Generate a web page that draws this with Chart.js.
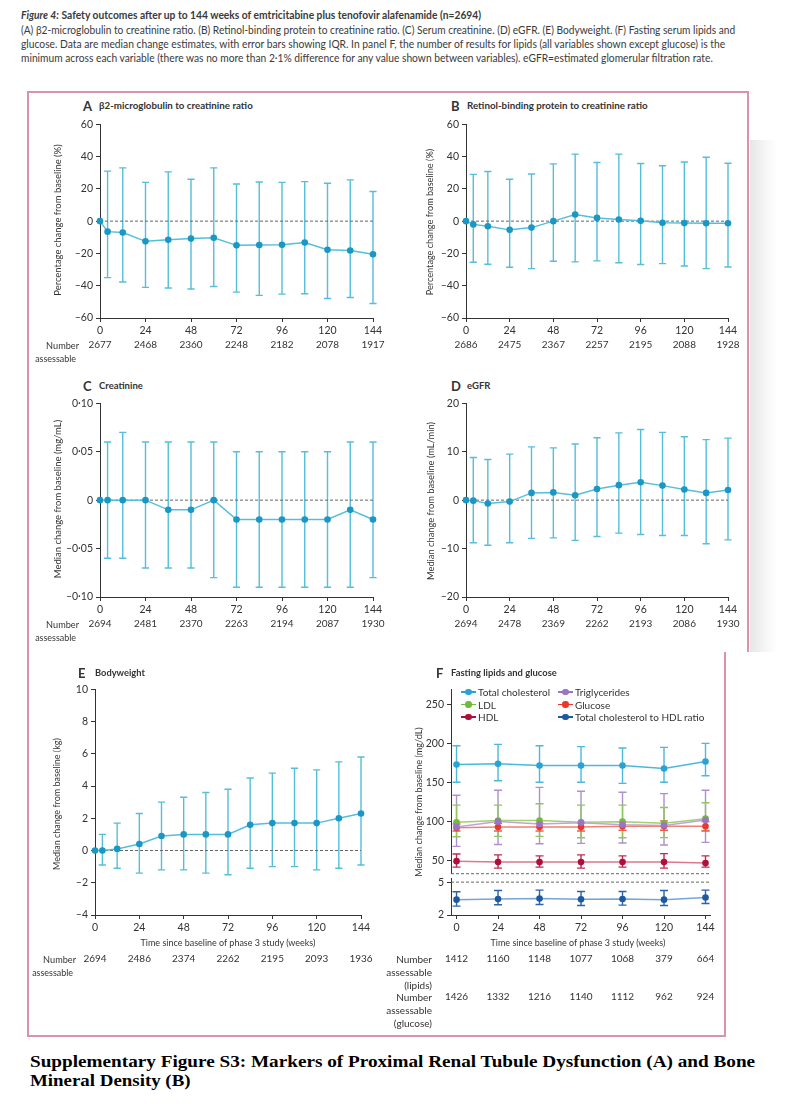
<!DOCTYPE html>
<html>
<head>
<meta charset="utf-8">
<script src="https://cdn.jsdelivr.net/npm/chart.js@4.4.1/dist/chart.umd.min.js"></script>
<style>
    body { margin: 0; background: #fff; }
    #page { position: relative; width: 794px; height: 1104px; overflow: hidden; font-family: Lato, sans-serif; color: #333; }
    .t { position: absolute; white-space: nowrap; line-height: 1.1; }
    canvas { position: absolute; }
    .ln { position: absolute; background: #db93aa; }
</style>
</head>
<body>
<div id="page"></div>
<script>
// --- data ---
const weeks = [0, 4, 12, 24, 36, 48, 60, 72, 84, 96, 108, 120, 132, 144];
const weekTicks = [0, 24, 48, 72, 96, 120, 144];
const weeksF = [0, 24, 48, 72, 96, 120, 144];

// A: beta2-microglobulin to creatinine ratio (% change)
const aMed = [0, -6.5, -7, -12.5, -11.5, -10.8, -10.3, -15, -14.8, -14.6, -13.2, -17.7, -18.2, -20.5];
const aHi = [null, 31, 33, 24, 30.5, 26, 33, 23, 24.3, 24, 24.5, 23.5, 25.6, 18.4];
const aLo = [null, -35, -37.7, -41, -41.4, -42, -40.5, -44, -46, -45.2, -45, -47.9, -47.3, -51];
const aN = [2677, 2468, 2360, 2248, 2182, 2078, 1917];
const aTicksY = [-60, -40, -20, 0, 20, 40, 60];

// B: retinol-binding protein to creatinine ratio (% change)
const bMed = [0, -2, -3.2, -5.4, -4, 0, 4.1, 2, 1, 0.2, -1, -1.2, -1.3, -1.3];
const bHi = [null, 29, 30.8, 26, 29.2, 35.5, 41.5, 36.3, 41.5, 35.7, 34.3, 36.6, 39.6, 35.9];
const bLo = [null, -25.5, -26.7, -28.6, -29.4, -24.8, -25.2, -24.6, -25.8, -26.9, -26.3, -27.8, -29.4, -28.4];
const bN = [2686, 2475, 2367, 2257, 2195, 2088, 1928];

// C: creatinine (mg/mL)
const cMed = [0, 0, 0, 0, -0.01, -0.01, 0, -0.02, -0.02, -0.02, -0.02, -0.02, -0.01, -0.02];
const cHi = [null, 0.06, 0.07, 0.06, 0.06, 0.06, 0.06, 0.05, 0.05, 0.05, 0.05, 0.05, 0.06, 0.06];
const cLo = [null, -0.06, -0.06, -0.07, -0.07, -0.07, -0.08, -0.09, -0.09, -0.09, -0.09, -0.09, -0.09, -0.08];
const cN = [2694, 2481, 2370, 2263, 2194, 2087, 1930];
const cTicksY = [-0.1, -0.05, 0, 0.05, 0.1];

// D: eGFR (mL/min)
const dMed = [0, -0.1, -0.7, -0.3, 1.5, 1.6, 1, 2.3, 3.1, 3.7, 3, 2.2, 1.5, 2.1];
const dHi = [null, 8.8, 8.4, 9.5, 11, 10.8, 11.6, 12.9, 13.9, 14.6, 14, 13.1, 12.5, 12.8];
const dLo = [null, -8.8, -9.3, -8.8, -7.9, -7.8, -8.3, -7.5, -6.8, -7.1, -7.3, -7.3, -9, -8.2];
const dN = [2694, 2478, 2369, 2262, 2193, 2086, 1930];
const dTicksY = [-20, -10, 0, 10, 20];

// E: bodyweight (kg)
const eMed = [0, 0, 0.1, 0.4, 0.9, 1, 1, 1, 1.6, 1.7, 1.7, 1.7, 2, 2.3];
const eHi = [null, 1, 1.7, 2.3, 3, 3.3, 3.6, 3.8, 4.5, 4.8, 5.1, 5, 5.5, 5.8];
const eLo = [null, -0.9, -1.1, -1.4, -1.2, -1.2, -1.4, -1.5, -1.1, -1, -1, -1.2, -1.1, -0.9];
const eN = [2694, 2486, 2374, 2262, 2195, 2093, 1936];
const eTicksY = [-4, -2, 0, 2, 4, 6, 8, 10];

// F: fasting lipids and glucose (mg/dL), ratio on the lower axis
const tcMed = [173.4, 174.2, 172.1, 172.1, 172.1, 168.3, 177.2];
const tcHi = [197.5, 199.2, 197.5, 196.3, 194.6, 195.4, 200.5];
const tcLo = [150.5, 152.6, 150.5, 150.5, 149.2, 150.5, 158.9];
const ldlMed = [99.2, 101.3, 101.3, 99.2, 100, 97.9, 103.8];
const ldlHi = [121.2, 121.2, 122.9, 121.2, 121.2, 118.2, 124.2];
const ldlLo = [80.5, 81, 81, 79.2, 79.2, 79.5, 88.6];
const tgMed = [93.2, 100, 97, 98.7, 96, 95, 102];
const tgHi = [133.9, 140.3, 144, 139, 137.7, 136, 140.3];
const tgLo = [68.2, 70.7, 71.6, 72, 72.5, 70, 73.3];
const gluMed = [92, 93, 93, 93, 94, 94, 94];
const gluHi = [97, 98, 98, 98, 99, 101, 100];
const gluLo = [88, 88, 88, 88, 89, 89, 88];
const hdlMed = [49.2, 48, 48, 48, 48, 48, 46.9];
const hdlHi = [58.5, 57.3, 56, 57.3, 56, 58.9, 56];
const hdlLo = [41.6, 40.3, 41.6, 40.3, 41.6, 40.3, 41.6];
const ratioMed = [3.4, 3.46, 3.51, 3.43, 3.46, 3.4, 3.6];
const ratioHi = [4.12, 4.24, 4.27, 4.15, 4.15, 4.24, 4.27];
const ratioLo = [2.81, 2.93, 2.96, 2.87, 2.9, 2.87, 3.05];
const fLipidN = [1412, 1160, 1148, 1077, 1068, 379, 664];
const fGluN = [1426, 1332, 1216, 1140, 1112, 962, 924];
const fTicksUpper = [50, 100, 150, 200, 250];
const fTicksLower = [2, 5];

const page = document.getElementById('page');
Chart.defaults.font.family = 'Lato, sans-serif';
Chart.defaults.font.size = 10;
Chart.defaults.color = '#333';

// text helper: x/y is the anchor (left, right or centre; vertical centre)
function txt(s, x, y, o) {
    o = o || {};
    const d = document.createElement('div');
    d.className = 't';
    d.innerHTML = s;
    d.style.fontSize = (o.size || 10) + 'px';
    if (o.bold) d.style.fontWeight = 'bold';
    if (o.family) d.style.fontFamily = o.family;
    if (o.color) d.style.color = o.color;
    page.appendChild(d);
    const w = d.offsetWidth;
    const sx = o.w ? o.w / w : 1;
    const ax = o.rot ? 0.5 : (o.align === 'right' ? 1 : o.align === 'center' ? 0.5 : 0);
    d.style.left = x + 'px';
    d.style.top = y + 'px';
    d.style.transformOrigin = (ax * 100) + '% 50%';
    d.style.transform = 'translate(' + (-ax * 100) + '%,-50%)' + (o.rot ? ' rotate(-90deg)' : '') + ' scaleX(' + sx + ')';
    return d;
}

function box(x, y, w, h, bg) {
    const d = document.createElement('div');
    d.className = 'ln';
    d.style.left = x + 'px'; d.style.top = y + 'px';
    d.style.width = w + 'px'; d.style.height = h + 'px';
    if (bg) d.style.background = bg;
    page.appendChild(d);
}

// --- header ---
const hcol = '#3a3a3a';
txt('<i>Figure 4:</i> Safety outcomes after up to 144 weeks of emtricitabine plus tenofovir alafenamide (n=2694)', 21, 15, { size: 11, bold: true, w: 460, color: hcol });
txt('(A) β2-microglobulin to creatinine ratio. (B) Retinol-binding protein to creatinine ratio. (C) Serum creatinine. (D) eGFR. (E) Bodyweight. (F) Fasting serum lipids and', 21, 31, { size: 10.5, w: 714, color: hcol });
txt('glucose. Data are median change estimates, with error bars showing IQR. In panel F, the number of results for lipids (all variables shown except glucose) is the', 21, 45, { size: 10.5, w: 704, color: hcol });
txt('minimum across each variable (there was no more than 2·1% difference for any value shown between variables). eGFR=estimated glomerular filtration rate.', 21, 59, { size: 10.5, w: 692, color: hcol });

// --- frame ---
box(750, 140, 28, 512, 'linear-gradient(to right, #e6e6e6, #f7f7f7 60%, #fff)');
box(27, 91, 722, 1.5);
box(27, 91, 1.5, 946);
box(747, 91, 1.5, 561);
box(724, 652, 1.5, 385);
box(27, 1035, 699, 1.5);

// --- caption ---
txt('Supplementary Figure S3: Markers of Proximal Renal Tubule Dysfunction (A) and Bone', 30, 1062, { size: 17, bold: true, family: '"Liberation Serif", serif', w: 725, color: '#000' });
txt('Mineral Density (B)', 30, 1081, { size: 17, bold: true, family: '"Liberation Serif", serif', w: 160, color: '#000' });

// --- error bar plugin: draws IQR whiskers through the chart scales ---
const errorBars = {
    id: 'errorBars',
    beforeDatasetsDraw(chart) {
        const ctx = chart.ctx;
        const xs = chart.scales.x;
        chart.data.datasets.forEach(ds => {
            if (!ds.errLo) return;
            const ys = chart.scales[ds.yAxisID || 'y'];
            const cap = ds.cap || 3.6;
            ctx.save();
            ctx.strokeStyle = ds.errColor;
            ctx.lineWidth = 1.4;
            ds.data.forEach((p, i) => {
                const lo = ds.errLo[i], hi = ds.errHi[i];
                if (lo == null || hi == null) return;
                const x = xs.getPixelForValue(p.x);
                const y1 = ys.getPixelForValue(lo), y2 = ys.getPixelForValue(hi);
                ctx.beginPath();
                ctx.moveTo(x, y1); ctx.lineTo(x, y2);
                ctx.moveTo(x - cap, y1); ctx.lineTo(x + cap, y1);
                ctx.moveTo(x - cap, y2); ctx.lineTo(x + cap, y2);
                ctx.stroke();
            });
            ctx.restore();
        });
    }
};

function series(xs, med, lo, hi, line, pt, err, cap) {
    return {
        data: xs.map((x, i) => ({ x: x, y: med[i] })),
        errLo: lo, errHi: hi, errColor: err || line, cap: cap,
        borderColor: line, borderWidth: 1.5,
        pointRadius: 3.3, pointBackgroundColor: pt, pointBorderWidth: 0, pointHoverRadius: 0,
        clip: false, order: 1
    };
}

function refLine(x0, x1, y) {
    return {
        data: [{ x: x0, y: y }, { x: x1, y: y }],
        borderColor: '#666', borderWidth: 1, borderDash: [3, 2],
        pointRadius: 0, clip: false, order: 5
    };
}

function dashFmt(v) { return v < 0 ? '–' + (-v) : String(v); }
function dotFmt(v) {
    if (v === 0) return '0';
    return (v < 0 ? '–' : '') + Math.abs(v).toFixed(2).replace('.', '·');
}

// one canvas per axis box; chart area lands on ax0..ax1 / ay0..ay1 of the page
function panel(p) {
    const YW = 45, PT = 8, PR = 14, PB = p.pb || 0;
    const xh = p.xh || 0;
    const cw = p.ax1 - p.ax0, ch = p.ay1 - p.ay0;
    const c = document.createElement('canvas');
    c.width = cw + YW + PR;
    c.height = ch + PT + xh + PB;
    c.style.left = (p.ax0 - YW) + 'px';
    c.style.top = (p.ay0 - PT) + 'px';
    page.appendChild(c);

    const rowsPlugin = {
        id: 'rows',
        afterDraw(chart) {
            const ctx = chart.ctx, xs = chart.scales.x, b = chart.chartArea.bottom;
            ctx.save();
            ctx.font = '10px Lato';
            ctx.fillStyle = '#333';
            ctx.textAlign = 'center';
            ctx.textBaseline = 'middle';
            (p.rows || []).forEach(r => {
                r.vals.forEach((v, i) => ctx.fillText(String(v), xs.getPixelForValue(weekTicks[i]), b + r.dy));
            });
            ctx.restore();
        }
    };

    const axisCommon = {
        grid: { drawOnChartArea: false, drawTicks: true, tickLength: 4, color: '#333', lineWidth: 1 },
        border: { color: '#333', width: 1 }
    };

    new Chart(c, {
        type: 'line',
        data: { datasets: p.datasets },
        options: {
            responsive: false,
            animation: false,
            devicePixelRatio: 1,
            layout: { padding: { left: 0, top: PT, right: PR, bottom: PB } },
            plugins: { legend: { display: false }, tooltip: { enabled: false } },
            scales: {
                x: Object.assign({
                    type: 'linear', display: xh > 0, min: p.xmin, max: p.xmax,
                    afterBuildTicks: s => { s.ticks = weekTicks.map(v => ({ value: v })); },
                    afterFit: s => { s.height = xh; },
                    ticks: { padding: 2, maxRotation: 0, autoSkip: false, font: { size: 10.5 }, color: '#333' }
                }, axisCommon),
                y: Object.assign({
                    type: 'linear', min: p.ymin, max: p.ymax,
                    afterBuildTicks: s => { s.ticks = p.yticks.map(v => ({ value: v })); },
                    afterFit: s => { s.width = YW; },
                    ticks: { padding: 3, autoSkip: false, font: { size: 10.5 }, color: '#333', callback: p.fmt || dashFmt }
                }, axisCommon)
            }
        },
        plugins: [errorBars, rowsPlugin]
    });
}

const LINE = '#55bedb', PT_COL = '#1b97c4';

// --- panel A ---
panel({
    ax0: 100, ax1: 373, ay0: 123, ay1: 318, xmin: 0, xmax: 144, ymin: -60, ymax: 60, yticks: aTicksY,
    xh: 50, rows: [{ dy: 27, vals: aN }],
    datasets: [refLine(0, 144, 0), series(weeks, aMed, aLo, aHi, LINE, PT_COL)]
});
// --- panel B ---
panel({
    ax0: 466, ax1: 728, ay0: 123, ay1: 318, xmin: 0, xmax: 144, ymin: -60, ymax: 60, yticks: aTicksY,
    xh: 50, rows: [{ dy: 27, vals: bN }],
    datasets: [refLine(0, 144, 0), series(weeks, bMed, bLo, bHi, LINE, PT_COL)]
});
// --- panel C ---
panel({
    ax0: 100, ax1: 373, ay0: 402, ay1: 597, xmin: 0, xmax: 144, ymin: -0.1, ymax: 0.1, yticks: cTicksY,
    fmt: dotFmt, xh: 50, rows: [{ dy: 27, vals: cN }],
    datasets: [refLine(0, 144, 0), series(weeks, cMed, cLo, cHi, LINE, PT_COL)]
});
// --- panel D ---
panel({
    ax0: 466, ax1: 728, ay0: 402, ay1: 597, xmin: 0, xmax: 144, ymin: -20, ymax: 20, yticks: dTicksY,
    xh: 50, rows: [{ dy: 27, vals: dN }],
    datasets: [refLine(0, 144, 0), series(weeks, dMed, dLo, dHi, LINE, PT_COL)]
});
// --- panel E ---
panel({
    ax0: 95, ax1: 361, ay0: 688, ay1: 915, xmin: 0, xmax: 144, ymin: -4, ymax: 10, yticks: eTicksY,
    xh: 60, rows: [{ dy: 44, vals: eN }],
    datasets: [refLine(0, 144, 0), series(weeks, eMed, eLo, eHi, LINE, PT_COL)]
});

// --- panel F (broken axis: upper mg/dL part, lower ratio part) ---
const fXmin = -3.2, fXmax = 146.6, fUpMin = 33.1;
const fCols = {
    tc: ['#4cb8dc', '#2aa3d2', '#4cb8dc'],
    tg: ['#bca5da', '#9b74c4', '#ad8fd2'],
    ldl: ['#a2d06c', '#72b93c', '#8ec75a'],
    glu: ['#f2806f', '#e8372c', '#ee5b4d'],
    hdl: ['#dc7890', '#b10f3b', '#c02a51'],
    ratio: ['#76a5d6', '#1d59a0', '#2b63a9']
};
panel({
    ax0: 451, ax1: 710, ay0: 688, ay1: 875, xmin: fXmin, xmax: fXmax, ymin: fUpMin, ymax: 270, yticks: fTicksUpper,
    fmt: v => String(v), xh: 0, pb: 8,
    datasets: [
        refLine(fXmin, fXmax, fUpMin),
        series(weeksF, tcMed, tcLo, tcHi, fCols.tc[0], fCols.tc[1], fCols.tc[2], 4),
        series(weeksF, tgMed, tgLo, tgHi, fCols.tg[0], fCols.tg[1], fCols.tg[2], 4),
        series(weeksF, ldlMed, ldlLo, ldlHi, fCols.ldl[0], fCols.ldl[1], fCols.ldl[2], 4),
        series(weeksF, gluMed, gluLo, gluHi, fCols.glu[0], fCols.glu[1], fCols.glu[2], 4),
        series(weeksF, hdlMed, hdlLo, hdlHi, fCols.hdl[0], fCols.hdl[1], fCols.hdl[2], 4)
    ]
});
panel({
    ax0: 451, ax1: 710, ay0: 877, ay1: 915, xmin: fXmin, xmax: fXmax, ymin: 2, ymax: 5.35, yticks: fTicksLower,
    fmt: v => String(v), xh: 112,
    rows: [{ dy: 44, vals: fLipidN }, { dy: 82, vals: fGluN }],
    datasets: [
        refLine(fXmin, fXmax, 5),
        series(weeksF, ratioMed, ratioLo, ratioHi, fCols.ratio[0], fCols.ratio[1], fCols.ratio[2], 4)
    ]
});

// --- panel titles ---
txt('A', 83, 106, { size: 13, bold: true });
txt('β2-microglobulin to creatinine ratio', 99, 106, { size: 9.5, bold: true, w: 154 });
txt('B', 451, 106, { size: 13, bold: true });
txt('Retinol-binding protein to creatinine ratio', 467, 106, { size: 9.5, bold: true, w: 181 });
txt('C', 83, 386, { size: 13, bold: true });
txt('Creatinine', 99, 386, { size: 9.5, bold: true });
txt('D', 451, 386, { size: 13, bold: true });
txt('eGFR', 467, 386, { size: 9.5, bold: true });
txt('E', 78, 673, { size: 13, bold: true });
txt('Bodyweight', 95, 673, { size: 9.5, bold: true, w: 50 });
txt('F', 436, 673, { size: 13, bold: true });
txt('Fasting lipids and glucose', 451, 673, { size: 9.5, bold: true, w: 106 });

// --- axis titles ---
txt('Percentage change from baseline (%)', 57, 220, { size: 10, rot: true, w: 151 });
txt('Percentage change from baseline (%)', 429, 222, { size: 10, rot: true, w: 146 });
txt('Median change from baseline (mg/mL)', 57, 499, { size: 10, rot: true, w: 158 });
txt('Median change from baseline (mL/min)', 430, 501, { size: 10, rot: true, w: 158 });
txt('Median change from baseline (kg)', 56, 804, { size: 10, rot: true, w: 132 });
txt('Median change from baseline (mg/dL)', 418, 802, { size: 10, rot: true, w: 150 });
txt('Time since baseline of phase 3 study (weeks)', 228, 942, { size: 10, align: 'center', w: 175 });
txt('Time since baseline of phase 3 study (weeks)', 578, 942, { size: 10, align: 'center', w: 175 });

// --- number-assessable row labels ---
[[79, 345], [79, 624], [76, 959]].forEach(r => {
    txt('Number', r[0], r[1], { size: 10, align: 'right', w: 33 });
    txt('assessable', r[0] - 3, r[1] + 13, { size: 10, align: 'right', w: 41 });
});
['Number', 'assessable', '(lipids)', 'Number', 'assessable', '(glucose)'].forEach((s, i) => {
    const ys = [959, 972, 985, 997, 1010, 1023];
    txt(s, 432, ys[i], { size: 10, align: 'right' });
});

// --- legend for F ---
const legendItems = [
    ['Total cholesterol', fCols.tc, 461, 692], ['Triglycerides', fCols.tg, 558, 692],
    ['LDL', fCols.ldl, 461, 704.5], ['Glucose', fCols.glu, 558, 704.5],
    ['HDL', fCols.hdl, 461, 717], ['Total cholesterol to HDL ratio', fCols.ratio, 558, 717]
];
legendItems.forEach(it => {
    const [label, col, x, y] = it;
    box(x, y - 0.75, 15, 1.5, col[1]);
    const dot = document.createElement('div');
    dot.style.cssText = 'position:absolute;width:6.5px;height:6.5px;border-radius:50%;left:' + (x + 4.25) + 'px;top:' + (y - 3.25) + 'px;background:' + col[1];
    page.appendChild(dot);
    txt(label, x + 17, y, { size: 10 });
});
</script>
</body>
</html>
